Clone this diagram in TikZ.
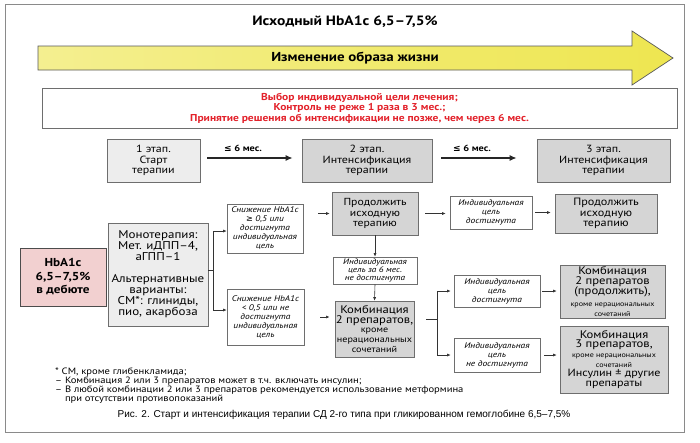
\documentclass[tikz,border=0pt]{standalone}
\usepackage{fontspec}
\setmainfont{PT Sans}[FakeStretch=1.15]
\newfontfamily\capf{Liberation Sans}
\newfontfamily\symf{DejaVu Sans}
\usetikzlibrary{arrows.meta,shadows}
\definecolor{lightfill}{HTML}{EDEDED}
\definecolor{darkfill}{HTML}{D5D5D5}
\definecolor{pinkfill}{HTML}{F2D0D0}
\definecolor{redtxt}{HTML}{E3222B}
\definecolor{bordc}{HTML}{6E6E6E}
\definecolor{framec}{HTML}{8A8A8A}
\definecolor{yelA}{HTML}{F4EF90}
\definecolor{yelB}{HTML}{EEE650}
\definecolor{linec}{HTML}{333333}
\newcommand\tightls{\lineskiplimit-10pt\relax}
\newcommand\fkbig{\fontsize{11}{9.6}\selectfont}
\newcommand\fksmall{\fontsize{8.8}{9.6}\selectfont}
\newcommand\frmid{\fontsize{11}{10}\selectfont}
\newcommand\frsmall{\fontsize{7}{10}\selectfont}
\newcommand\frins{\fontsize{10.5}{10}\selectfont}
\tikzset{
  box/.style={draw=bordc, line width=0.7pt, align=center, inner sep=1pt,
    drop shadow={shadow xshift=1.2pt, shadow yshift=-1.2pt, fill=black, opacity=0.25}},
  lbox/.style={box, fill=lightfill},
  dbox/.style={box, fill=darkfill},
  wbox/.style={box, fill=white, font={\itshape\fontsize{8.2}{9}\selectfont\tightls}},
  stagefont/.style={font={\fontsize{10.4}{10.8}\selectfont\tightls}},
  conn/.style={draw=linec, line width=0.6pt},
  arr/.style={conn, -{Latex[length=3.5pt,width=3pt]}},
  bigarrow/.style={draw=black!85, line width=2.2pt, -{Latex[length=7pt,width=6pt]}},
  lbl/.style={font={\bfseries\fontsize{9}{10}\selectfont}, inner sep=1pt}
}
\begin{document}
\begin{tikzpicture}[x=1pt,y=-1pt]
\useasboundingbox (0,0) rectangle (700,442);
\fill[white] (0,0) rectangle (700,442);
% outer frame
\draw[framec, line width=0.9pt] (5,4) rectangle (684,432);
% title
\node[font={\bfseries\fontsize{13.5}{15}\selectfont}] (title) at (345,22) {Исходный HbA1c 6,5–7,5\%};
% yellow arrow
\shadedraw[left color=yelA, right color=yelB, draw=black!65, line width=0.7pt]
  (38,46) -- (632,46) -- (632,31) -- (673,58) -- (632,85) -- (632,70) -- (38,70) -- cycle;
\node[font={\bfseries\fontsize{13}{14}\selectfont}] (life) at (355,58) {Изменение образа жизни};
% red box
\node[box, fill=white, minimum width=635pt, minimum height=40pt, text=redtxt,
  font={\bfseries\fontsize{10}{10.5}\selectfont\tightls}] (goal) at (359.5,108)
  {Выбор индивидуальной цели лечения;\\ Контроль не реже 1 раза в 3 мес.;\\ Принятие решения об интенсификации не позже, чем через 6 мес.};
% stages
\node[lbox, stagefont, minimum width=93pt, minimum height=43pt] (st1) at (153.5,160.5) {1 этап.\\ Старт\\ терапии};
\node[dbox, stagefont, minimum width=130pt, minimum height=43pt] (st2) at (367,160.5) {2 этап.\\ Интенсификация\\ терапии};
\node[dbox, stagefont, minimum width=133pt, minimum height=43pt] (st3) at (603.5,160.5) {3 этап.\\ Интенсификация\\ терапии};
\draw[bigarrow] ([shift={(7pt,2.5pt)}]st1.east) -- ([shift={(-9pt,2.5pt)}]st2.west);
\draw[bigarrow] ([shift={(9pt,2.5pt)}]st2.east) -- ([shift={(-20pt,2.5pt)}]st3.west);
\node[lbl] (t1) at (243,148.5) {{\symf ≤} 6 мес.};
\node[lbl] (t2) at (472,148.5) {{\symf ≤} 6 мес.};
% start column
\node[box, fill=pinkfill, draw=black!70, minimum width=86pt, minimum height=58pt,
  font={\bfseries\fontsize{11.5}{13.5}\selectfont\tightls}] (hb) at (63,277) {HbA1c\\ 6,5–7,5\%\\ в дебюте};
\node[lbox, minimum width=100pt, minimum height=103pt, font={\fontsize{11.3}{11}\selectfont\tightls}] (mono) at (158,274.5)
  {Монотерапия:\\ Мет. иДПП–4,\\ аГПП–1\\[11pt] Альтернативные\\ варианты:\\ СМ*: глиниды,\\ пио, акарбоза};
% second column
\node[wbox, minimum width=76pt, minimum height=49pt] (sn1) at (265,228.5)
  {Снижение HbA1c\\ {\symf ≥} 0,5 или\\ достигнута\\ индивидуальная\\ цель};
\node[wbox, minimum width=77pt, minimum height=56pt] (sn2) at (265.5,317)
  {Снижение HbA1c\\ < 0,5 или не\\ достигнута\\ индивидуальная\\ цель};
\coordinate (j0) at (213,270);
\coordinate (j1) at (213,231);
\coordinate (j2) at (213,310);
\draw[conn] (mono.east |- j0) -- (j0);
\draw[conn] (j1) -- (j2);
\draw[arr] (j1) -- (j1 -| sn1.west);
\draw[arr] (j2) -- (j2 -| sn2.west);
% third column
\node[dbox, minimum width=86pt, minimum height=43pt, font={\fontsize{10.2}{10.8}\selectfont\tightls}] (pr1) at (375,213.5)
  {Продолжить\\ исходную\\ терапию};
\node[wbox, minimum width=84pt, minimum height=27pt, font={\itshape\fontsize{8}{8}\selectfont\tightls}] (ind6) at (375,270.5)
  {Индивидуальная\\ цель за 6 мес.\\ не достигнута};
\node[dbox, minimum width=77pt, minimum height=56pt, font={\fontsize{11}{9.6}\selectfont\tightls}] (k2) at (374.5,329)
  {\fkbig Комбинация\\ \fkbig 2 препаратов,\\ \fksmall кроме\\ \fksmall нерациональных\\ \fksmall сочетаний};
\draw[arr, shorten <=15pt, shorten >=2pt] (sn1.east |- pr1.west) -- (pr1.west);
\draw[arr, shorten <=16pt, shorten >=5pt] (sn2.east) -- (sn2.east -| k2.west);
\draw[arr] (pr1.south) -- (ind6.north);
\draw[arr] (ind6.south) -- (k2.north);
% fourth column
\node[wbox, minimum width=82pt, minimum height=33pt] (i1) at (491,212.5) {Индивидуальная\\ цель\\ достигнута};
\node[wbox, minimum width=86pt, minimum height=32pt] (i2) at (497,291) {Индивидуальная\\ цель\\ достигнута};
\node[wbox, minimum width=86pt, minimum height=34pt] (i3) at (497,355) {Индивидуальная\\ цель\\ не достигнута};
\draw[arr, shorten <=7pt, shorten >=4pt] (pr1.east) -- (pr1.east -| i1.west);
\coordinate (kb) at (437,319);
\draw[conn, shorten <=12pt] (kb -| k2.east) -- (kb);
\draw[conn] (kb |- i2.west) -- (kb |- i3.west);
\draw[arr, shorten >=3pt] (kb |- i2.west) -- (i2.west);
\draw[arr, shorten >=3pt] (kb |- i3.west) -- (i3.west);
% fifth column
\node[dbox, minimum width=102pt, minimum height=39pt, font={\fontsize{10.6}{10.5}\selectfont\tightls}] (pr3) at (606,213.5)
  {Продолжить\\ исходную\\ терапию};
\node[dbox, minimum width=105pt, minimum height=53pt, font={\fontsize{11}{10}\selectfont\tightls}] (k2r) at (612.5,291.5)
  {\frmid Комбинация\\ \frmid 2 препаратов\\ \frmid (продолжить),\\[1.5pt] \frsmall кроме нерациональных\\ \frsmall сочетаний};
\node[dbox, minimum width=108pt, minimum height=67pt, font={\fontsize{11}{9.7}\selectfont\tightls}] (k3) at (614,359.5)
  {\frmid Комбинация\\ \frmid 3 препаратов,\\ \frsmall кроме нерациональных\\ \frsmall сочетаний\\ \frins Инсулин ± другие\\ \frins препараты};
\draw[arr, shorten <=3pt, shorten >=4pt] (i1.east) -- (i1.east -| pr3.west);
\draw[arr, shorten <=2pt, shorten >=3pt] (i2.east) -- (i2.east -| k2r.west);
\draw[arr, shorten <=4pt, shorten >=3pt] (i3.east) -- (i3.east -| k3.west);
% footnotes
\node[anchor=north west, align=left, inner sep=0pt, font={\fontsize{9.2}{8.8}\selectfont\tightls}] (notes) at (55,368)
  {* СМ, кроме глибенкламида;\\ – Комбинация 2 или 3 препаратов может в т.ч. включать инсулин;\\ – В любой комбинации 2 или 3 препаратов рекомендуется использование метформина\\ \hphantom{– }при отсутствии противопоказаний};
% caption
\node[font={\capf\fontsize{10}{12}\selectfont}] (cap) at (344,415)
  {Рис. 2. Старт и интенсификация терапии СД 2-го типа при гликированном гемоглобине 6,5–7,5\%};
\end{tikzpicture}
\end{document}
